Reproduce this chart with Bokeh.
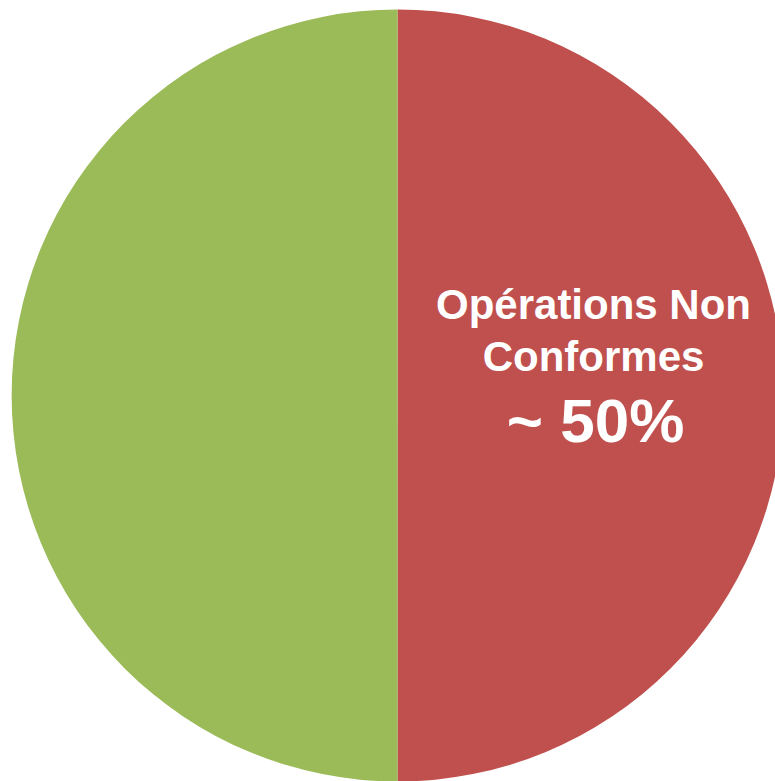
import math
from bokeh.plotting import figure
from bokeh.models import Range1d, ColumnDataSource
from bokeh.core.properties import value
from bokeh.embed import file_html
from bokeh.resources import INLINE

# Data
categories = ["Opérations Non Conformes", "Opérations Conformes"]
shares = [50, 50]
colors = ["#C0504D", "#9BBB59"]
label_lines = ["Opérations Non", "Conformes", "~ 50%"]

W, H = 775, 781
CX, CY, R = 397, H - 395, 386

# Angles: start at 12 o'clock, go clockwise
total = sum(shares)
starts, ends = [], []
a = math.pi / 2
for v in shares:
    span = 2 * math.pi * v / total
    starts.append(a - span)
    ends.append(a)
    a -= span

src = ColumnDataSource(dict(cat=categories, val=shares, color=colors,
                            start=starts, end=ends))

p = figure(width=W, height=H, output_backend="svg", toolbar_location=None,
           x_range=Range1d(0, W), y_range=Range1d(0, H),
           min_border=0, outline_line_color=None, background_fill_color="white",
           border_fill_color="white")
p.axis.visible = False
p.grid.visible = False

p.wedge(x=CX, y=CY, radius=R, start_angle="start", end_angle="end",
        fill_color="color", line_color=None, source=src)

# Label on the red slice
lx = CX + 196
font = value("Liberation Sans")
p.text(x=[lx], y=[H - 304], text=[label_lines[0]], text_font=font,
       text_font_size="42px", text_font_style="bold", text_color="white",
       text_align="center", text_baseline="alphabetic")
p.text(x=[lx], y=[H - 356], text=[label_lines[1]], text_font=font,
       text_font_size="42px", text_font_style="bold", text_color="white",
       text_align="center", text_baseline="alphabetic")
p.text(x=[lx + 2], y=[H - 420], text=[label_lines[2]], text_font=font,
       text_font_size="62px", text_font_style="bold", text_color="white",
       text_align="center", text_baseline="alphabetic")

open("out.html", "w").write(file_html(p, INLINE))
